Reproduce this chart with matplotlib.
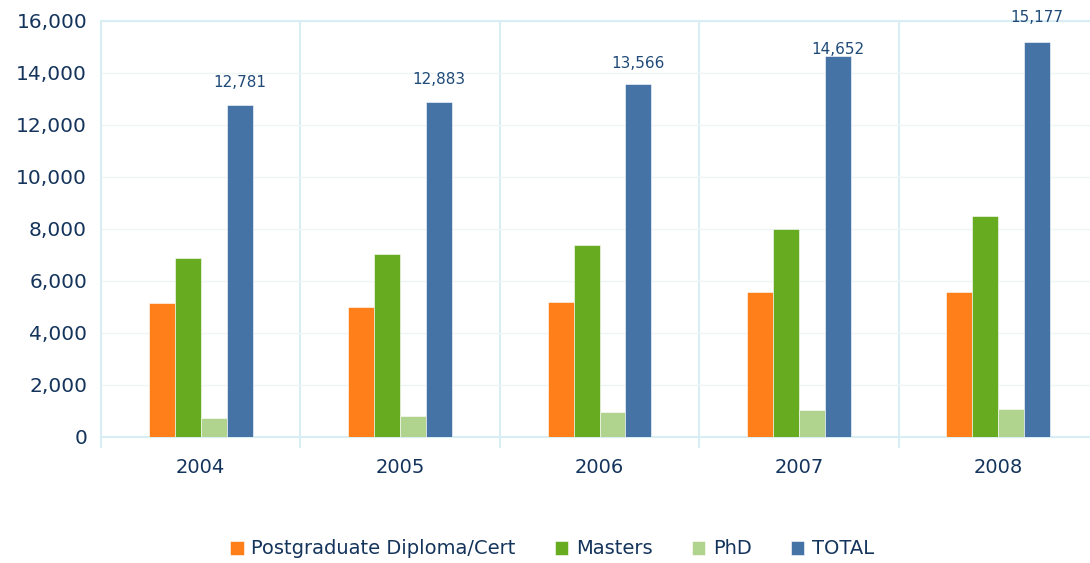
import numpy as np
import matplotlib.pyplot as plt
from matplotlib.ticker import FuncFormatter, MultipleLocator

years = ['2004', '2005', '2006', '2007', '2008']
series = ['Postgraduate Diploma/Cert', 'Masters', 'PhD', 'TOTAL']
postgrad = [5140, 5010, 5180, 5580, 5560]
masters = [6870, 7040, 7400, 7990, 8500]
phd = [740, 810, 980, 1040, 1090]
total = [12781, 12883, 13566, 14652, 15177]

colors = ['#ff7f1a', '#66ab20', '#b0d38e', '#4573a6']
text_color = '#14345c'
frame_color = '#d8edf4'
grid_color = '#edf5f5'

# vertical offset (points) of each total label above its bar
label_offsets = [16, 16, 15, 4.5, 18]

fig = plt.figure(figsize=(10.9, 5.63), dpi=100)
ax = fig.add_axes([101 / 1090, 126 / 563, 997 / 1090, 416 / 563])

x = np.arange(len(years))
width = 0.13
for i, (name, vals) in enumerate(zip(series, [postgrad, masters, phd, total])):
    ax.bar(x + (i - 1.5) * width, vals, width, color=colors[i], label=name,
           edgecolor='white', linewidth=0.4, zorder=3)

for xi, v, off in zip(x, total, label_offsets):
    ax.annotate(f'{v:,}', (xi + 1.5 * width, v), xytext=(0, off),
                textcoords='offset points', ha='center', va='center',
                fontsize=11, color='#1f4a78', annotation_clip=False, zorder=5)

ax.set_xlim(-0.5, len(years) - 0.5)
ax.set_ylim(0, 16000)
ax.yaxis.set_major_locator(MultipleLocator(2000))
ax.yaxis.set_major_formatter(FuncFormatter(lambda v, p: f'{int(v):,}'))
ax.set_xticks(x)
ax.set_xticklabels(years)
ax.set_xticks(np.arange(len(years) + 1) - 0.5, minor=True)

ax.tick_params(axis='y', length=0, labelsize=14.5, labelcolor=text_color, pad=10)
ax.tick_params(axis='x', which='major', length=0, labelsize=14, labelcolor=text_color, pad=15)
ax.tick_params(axis='x', which='minor', length=8, color=frame_color, width=1.5)

ax.grid(axis='y', color=grid_color, linewidth=1, zorder=0)
ax.grid(axis='x', which='minor', color=frame_color, linewidth=1.5, zorder=0)

for side in ['left', 'bottom', 'top']:
    ax.spines[side].set_color(frame_color)
    ax.spines[side].set_linewidth(1.5)
ax.spines['right'].set_visible(False)

fig.legend(loc='center', bbox_to_anchor=(552 / 1090, 1 - 549 / 563), ncol=4,
           frameon=False, fontsize=14, labelcolor=text_color,
           handlelength=0.7, handleheight=0.7, handletextpad=0.4, columnspacing=2.0)

fig.savefig('out.png', dpi=100)
